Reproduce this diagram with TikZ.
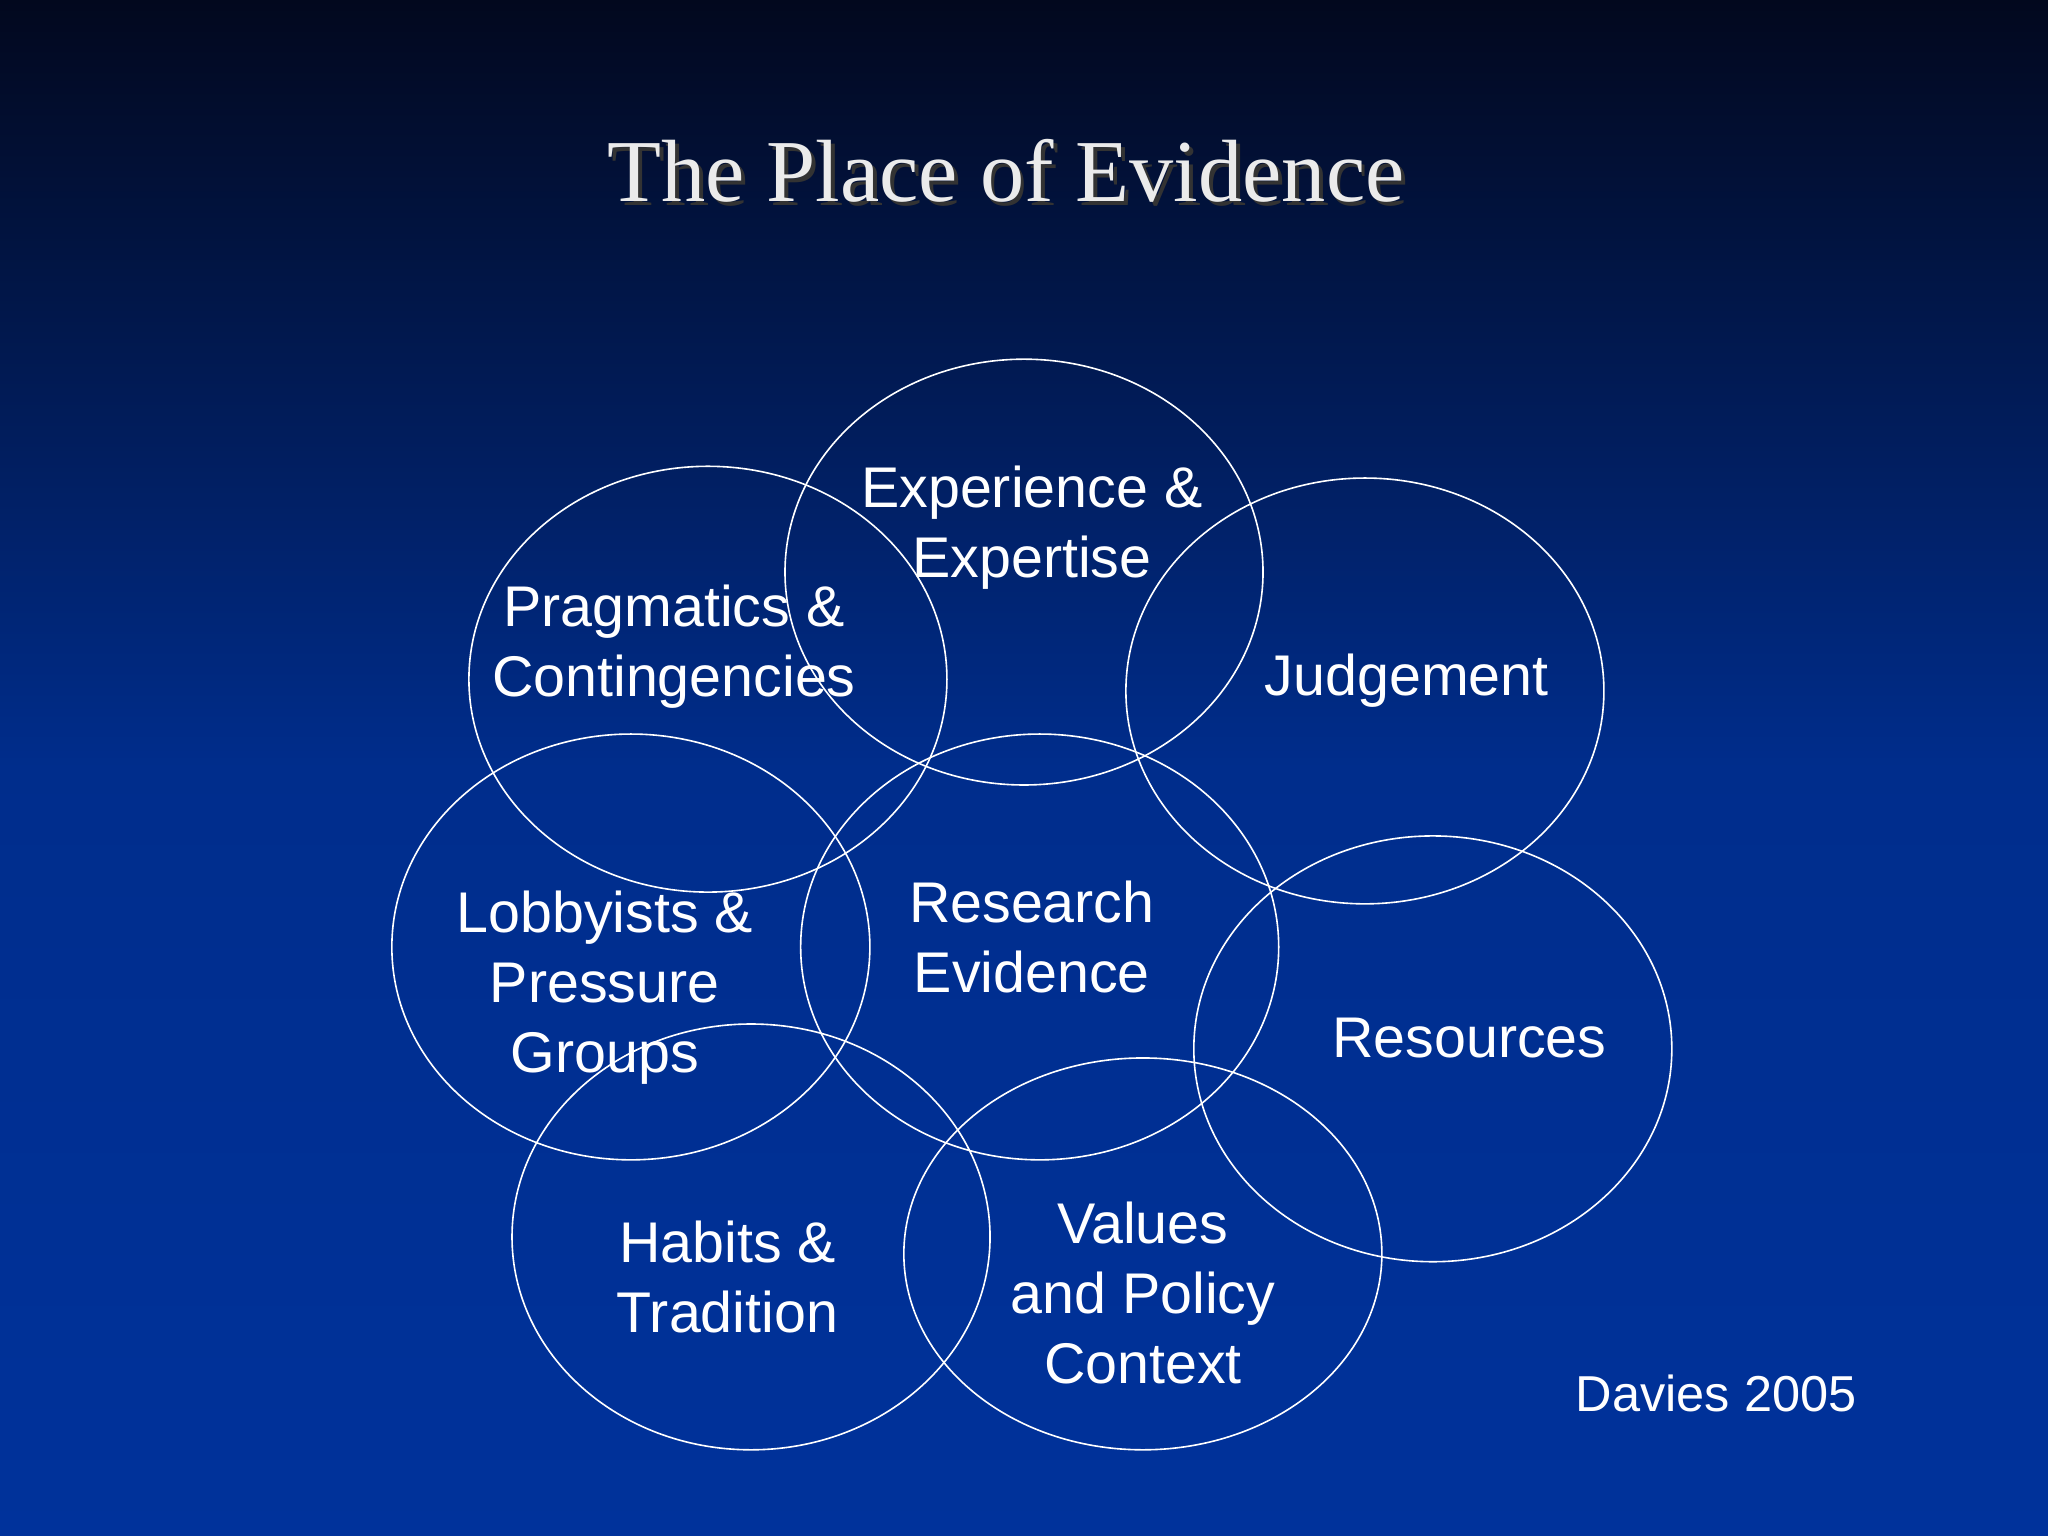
\documentclass[tikz,border=0pt]{standalone}
\usepackage{fontspec}
\setmainfont{Liberation Serif}
\setsansfont{Liberation Sans}
\definecolor{topc}{RGB}{2,8,30}
\definecolor{midc}{RGB}{0,45,140}
\definecolor{botc}{RGB}{0,50,155}
\begin{document}
\begin{tikzpicture}[x=0.02cm,y=-0.02cm,
  ring/.style={draw=white,line width=0.7pt},
  lbl/.style={text=white,font=\sffamily\fontsize{25}{30.5}\selectfont,align=center}]
\shade[top color=topc,bottom color=botc,middle color=midc] (0,0) rectangle (1568,1176);
\useasboundingbox (0,0) rectangle (1568,1176);
\node[text=black!80,font=\fontsize{38.5}{44}\selectfont] (ts) at (773,134) {The Place of Evidence};
\node[text=white!92!black,font=\fontsize{38.5}{44}\selectfont] (title) at (770,131) {The Place of Evidence};
\draw[ring] (784,438) ellipse [x radius=183,y radius=163];
\draw[ring] (542,520) ellipse [x radius=183,y radius=163];
\draw[ring] (1045,529) ellipse [x radius=183,y radius=163];
\draw[ring] (483,725) ellipse [x radius=183,y radius=163];
\draw[ring] (796,725) ellipse [x radius=183,y radius=163];
\draw[ring] (1097,803) ellipse [x radius=183,y radius=163];
\draw[ring] (575,947) ellipse [x radius=183,y radius=163];
\draw[ring] (875,960) ellipse [x radius=183,y radius=150];
\node[lbl] (exp) at (790,404) {Experience \&\\Expertise};
\node[lbl] (prag) at (516,495) {Pragmatics \&\\Contingencies};
\node[lbl] (judg) at (1077,521) {Judgement};
\node[lbl] (lob) at (463,756) {Lobbyists \&\\Pressure\\Groups};
\node[lbl] (res) at (790,717) {Research\\Evidence};
\node[lbl] (resc) at (1125,795) {Resources};
\node[lbl] (hab) at (557,978) {Habits \&\\Tradition};
\node[lbl] (val) at (875,990) {Values\\and Policy\\Context};
\node[lbl,font=\sffamily\fontsize{22}{26}\selectfont] (dav) at (1314,1067) {Davies 2005};
\end{tikzpicture}
\end{document}
